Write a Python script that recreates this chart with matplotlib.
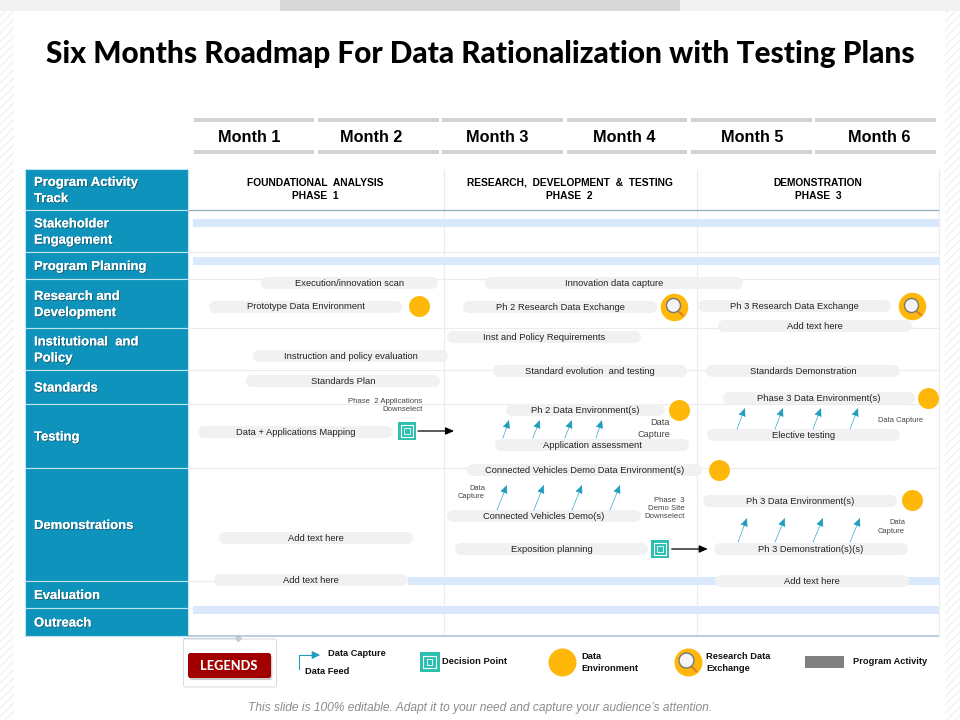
import matplotlib
matplotlib.use("Agg")
import matplotlib.pyplot as plt
import matplotlib.patheffects as pe
from matplotlib.patches import Rectangle, FancyBboxPatch

SANS = "Liberation Sans"
plt.rcParams["font.family"] = [SANS, "DejaVu Sans"]

# ---------- data ----------
TITLE = "Six Months Roadmap For Data Rationalization with Testing Plans"
FOOTNOTE = "This slide is 100% editable. Adapt it to your need and capture your audience\u2019s attention."
months = ["Month 1", "Month 2", "Month 3", "Month 4", "Month 5", "Month 6"]
month_centers = [.45, 1.432, 2.444, 3.466, 4.496, 5.517]
row_labels = ["Program Activity\nTrack", "Stakeholder\nEngagement", "Program Planning",
              "Research and\nDevelopment", "Institutional  and\nPolicy", "Standards",
              "Testing", "Demonstrations", "Evaluation", "Outreach"]
row_edges = [169, 210, 252, 279, 328, 370, 404, 468, 581, 608, 636]

phase_labels = ["FOUNDATIONAL  ANALYSIS\nPHASE  1", "RESEARCH,  DEVELOPMENT  &  TESTING\nPHASE  2",
                "DEMONSTRATION\nPHASE  3"]
phase_centers = [.98, 3.03, 5.027]
phase_dividers = [2.015, 4.05, 6.0]

# task: label, start month, end month, lane
task_labels = ["Execution/innovation scan", "Prototype Data Environment", "Innovation data capture",
               "Ph 2 Research Data Exchange", "Ph 3 Research Data Exchange", "Add text here",
               "Inst and Policy Requirements", "Instruction and policy evaluation", "Standards Plan",
               "Standard evolution  and testing", "Standards Demonstration",
               "Phase 3 Data Environment(s)", "Ph 2 Data Environment(s)", "Elective testing",
               "Application assessment", "Data + Applications Mapping",
               "Connected Vehicles Demo Data Environment(s)", "Ph 3 Data Environment(s)",
               "Connected Vehicles Demo(s)", "Exposition planning", "Ph 3 Demonstration(s)(s)",
               "Add text here", "Add text here", "Add text here"]
task_starts = [.547, .129, 2.349, 2.172, 4.062, 4.223, 2.043, .483, .426, 2.413, 4.126, 4.263,
               2.517, 4.134, 2.429, .040, 2.204, 4.102, 2.043, 2.107, 4.190, .209, .169, 4.199]
task_ends = [1.971, 1.681, 4.424, 3.732, 5.614, 5.783, 3.603, 2.051, 1.987, 3.973, 5.687, 5.807,
             3.796, 5.687, 3.989, 1.609, 4.094, 5.662, 3.603, 3.660, 5.751, 1.769, 1.729, 5.759]
task_lanes = [283, 306.5, 283, 307, 306, 326, 337, 356, 381, 371, 371, 398, 410, 435, 445, 432,
              470, 501, 516, 549, 549, 538, 580, 581]

activity_starts = [0, 0, 1.73, 0]
activity_ends = [6, 6, 6, 6]
activity_lanes = [223, 261, 581, 610]

env_months = [1.818, 3.909, 5.912, 4.231, 5.783]
env_lanes = [306, 410, 398, 470, 500]
exchange_months = [3.869, 5.783]
exchange_lanes = [306.5, 306]
decision_months = [1.721, 3.756]
decision_lanes = [431, 549]
# milestone links: from month, to month, lane
link_from = [1.81, 3.85]
link_to = [2.10, 4.14]
link_lanes = [431, 549]

# data-capture arrows: tail month, tip month, tail lane, tip lane
cap_tail = [2.493, 2.734, 2.991, 3.241, 4.376, 4.681, 4.987, 5.285, 2.445, 2.742, 3.049, 3.354,
            4.384, 4.681, 4.987, 5.285]
cap_tip = [2.542, 2.790, 3.048, 3.290, 4.440, 4.745, 5.051, 5.349, 2.525, 2.822, 3.129, 3.435,
           4.456, 4.761, 5.067, 5.365]
cap_tail_lane = [438] * 4 + [429] * 4 + [510] * 4 + [542] * 4
cap_tip_lane = [420] * 4 + [408] * 4 + [485] * 4 + [518] * 4

notes = ["Phase  2 Applications\nDownselect", "Data\nCapture", "Data Capture", "Data\nCapture",
         "Phase  3\nDemo Site\nDownselect", "Data\nCapture"]
note_months = [1.847, 3.836, 5.871, 2.349, 3.957, 5.726]
note_lanes = [405.5, 428.5, 420, 492.5, 508.5, 527]
note_sizes = [5.6, 6.6, 5.4, 5.4, 5.6, 5.4]

# ---------- figure ----------
BLUE = "#0E94BC"; PILL = "#F1F1F1"; YEL = "#FFB80A"; BAR = "#DAE8FC"; TEAL = "#2DBFAF"; CAP = "#1E9DBE"
W, H = 960, 720
M0, MW = 193.0, 124.33
fig = plt.figure(figsize=(9.6, 7.2), dpi=100, facecolor="white")
px = fig.add_axes([0, 0, 1, 1]); px.set_xlim(0, W); px.set_ylim(H, 0); px.axis("off")
tl = fig.add_axes([0, 0, 1, 1], facecolor="none")
tl.set_xlim(-M0 / MW, (W - M0) / MW); tl.set_ylim(H, 0); tl.axis("off")

def P(r):  # pixels -> points
    return r * 0.72

# page furniture
px.add_patch(Rectangle((0, 0), W, 11, fc="#F2F2F2", ec="none"))
px.add_patch(Rectangle((280, 0), 400, 11, fc="#D9D9D9", ec="none"))
for x0, w in ((0, 14), (945, 15)):
    px.add_patch(Rectangle((x0, 11), w, H - 11, fc="white", ec="#F1F1F1", hatch="////", lw=0))

px.text(480.5, 54, TITLE, ha="center", va="center", fontsize=21.45, fontweight="black", family="Lato", color="black")

# month header
for i, (m, c) in enumerate(zip(months, month_centers)):
    tl.hlines([120, 152], i + .005, i + .975, color="#D2D2D2", lw=P(4))
    tl.text(c, 137.5, m, ha="center", va="center", fontsize=11.7, fontweight="bold", color="black")

# rows
for i, lab in enumerate(row_labels):
    y0, y1 = row_edges[i], row_edges[i + 1]
    px.barh((y0 + y1) / 2, 163, height=y1 - y0, left=25, color=BLUE, edgecolor="#BFE4EF", linewidth=0.8)
    px.text(34, (y0 + y1) / 2 + 1.5, lab, ha="left", va="center", fontsize=9.4, fontweight="bold", color="white",
            linespacing=1.47,
            path_effects=[pe.withSimplePatchShadow(offset=(0.7, -0.7), shadow_rgbFace="#333333", alpha=.55), pe.Normal()])

# grid
for y in row_edges[2:-1]:
    tl.hlines(y, -.04, 6.0, color="#ECECEC", lw=.8, zorder=0)
tl.hlines(row_edges[1], -.04, 6.0, color="#8FAFC0", lw=.9)
tl.hlines(row_edges[-1], -.04, 6.0, color="#A9BDD5", lw=1.1)
tl.vlines(phase_dividers, row_edges[0], row_edges[-1], color="#ECECEC", lw=.8, zorder=0)

for c, lab in zip(phase_centers, phase_labels):
    tl.text(c, 189.5, lab, ha="center", va="center", fontsize=7.4, fontweight="bold", color="black", linespacing=1.42)

# activity bars
for s, e, y in zip(activity_starts, activity_ends, activity_lanes):
    tl.barh(y, e - s, left=s, height=8, color=BAR, edgecolor="none", zorder=1)

# tasks (round-capped lines; ends inset by the cap radius)
CAP_R = 6 / MW
for lab, s, e, y in zip(task_labels, task_starts, task_ends, task_lanes):
    tl.plot([s + CAP_R, e - CAP_R], [y, y], color=PILL, lw=P(12), solid_capstyle="round", zorder=2)
    tl.text((s + e) / 2, y + .3, lab, ha="center", va="center", fontsize=6.75, color="#222222", zorder=3)

# data environments and research exchanges
tl.scatter(env_months, env_lanes, s=P(21) ** 2, color=YEL, linewidths=0, zorder=4)
for x, y in zip(exchange_months, exchange_lanes):
    tl.scatter([x], [y], s=P(27.5) ** 2, color=YEL, linewidths=0, zorder=4)
    tl.plot([x + 2 / MW, x + 9 / MW], [y + 3, y + 9], color="#E2802A", lw=1.6, zorder=5, solid_capstyle="round")
    tl.scatter([x - 1.5 / MW], [y - 1.5], s=P(14) ** 2, facecolor="#F4F4F4", edgecolor="#777777", linewidths=1, zorder=6)

# decision points
def decision(ax, x, y, d=18, z=4):
    ax.scatter([x], [y], s=P(d) ** 2, marker="s", color=TEAL, linewidths=0, zorder=z)
    ax.scatter([x], [y], s=P(d * .62) ** 2, marker="s", facecolor="none", edgecolor="white", linewidths=.8, zorder=z + 1)
    ax.scatter([x], [y], s=P(d * .3) ** 2, marker="s", facecolor="none", edgecolor="white", linewidths=.6, zorder=z + 1)

for x, y in zip(decision_months, decision_lanes):
    decision(tl, x, y)
for a, b, y in zip(link_from, link_to, link_lanes):
    tl.annotate("", xy=(b, y), xytext=(a, y), zorder=4,
                arrowprops=dict(arrowstyle="-|>,head_width=.22,head_length=.5", color="black", lw=.9, shrinkA=0, shrinkB=0))

# data-capture arrows
for a, b, ya, yb in zip(cap_tail, cap_tip, cap_tail_lane, cap_tip_lane):
    tl.annotate("", xy=(b, yb), xytext=(a, ya), zorder=4,
                arrowprops=dict(arrowstyle="-|>,head_width=.22,head_length=.5", color=CAP, lw=.5, ls=(0, (2, 1)),
                                shrinkA=0, shrinkB=0))

for n, x, y, fs in zip(notes, note_months, note_lanes, note_sizes):
    tl.text(x, y, n, ha="right", va="center", fontsize=fs, color="#444444", linespacing=1.3, zorder=5)

# ---------- legend ----------
px.plot([183, 238], [638, 638], color="#C4D0DE", lw=.8)
px.plot([238], [637.5], marker="D", ms=3, color="#C4CCD6")
px.add_patch(FancyBboxPatch((183.5, 639), 93, 48, boxstyle="round,pad=0,rounding_size=2", fc="white", ec="#DDDDDD", lw=.8))
px.add_patch(FancyBboxPatch((188, 653), 83, 25, boxstyle="round,pad=0,rounding_size=3", fc="#A20000", ec="none",
                            path_effects=[pe.withSimplePatchShadow(offset=(1, -1.5), shadow_rgbFace="#999999", alpha=.5), pe.Normal()]))
px.text(229, 665.5, "LEGENDS", ha="center", va="center", color="white", fontsize=9.2, fontweight="black", family="Lato")

px.plot([299, 299, 314], [669, 655, 655], color=CAP, lw=.8)
px.annotate("", xy=(320, 655), xytext=(312, 655),
            arrowprops=dict(arrowstyle="-|>,head_width=.25,head_length=.5", color=CAP, lw=.6, shrinkA=0, shrinkB=0))
LEG = dict(fontsize=6.7, fontweight="bold", color="#111111", va="center", ha="left", linespacing=1.35)
px.text(328.5, 654, "Data Capture", **LEG)
px.text(305, 671, "Data Feed", **LEG)
decision(px, 429.5, 662, d=19.5)
px.text(442.5, 662, "Decision Point", **LEG)
px.scatter([562], [662], s=P(28) ** 2, color=YEL, linewidths=0)
px.text(581, 662.5, "Data\nEnvironment", **LEG)
px.scatter([688], [662], s=P(28) ** 2, color=YEL, linewidths=0, zorder=3)
px.plot([690, 696], [665, 671], color="#E2802A", lw=1.6, zorder=4)
px.scatter([686], [660], s=P(15) ** 2, facecolor="#F4F4F4", edgecolor="#777777", linewidths=1, zorder=5)
px.text(706, 662.5, "Research Data\nExchange", **LEG)
px.add_patch(Rectangle((805, 656), 39, 12, fc="#808080", ec="none"))
px.text(853, 662, "Program Activity", **LEG)

px.text(480, 708, FOOTNOTE, ha="center", va="center", fontsize=8.67, style="italic", color="#8C8C8C")

fig.savefig("out.png", dpi=100, facecolor="white")
